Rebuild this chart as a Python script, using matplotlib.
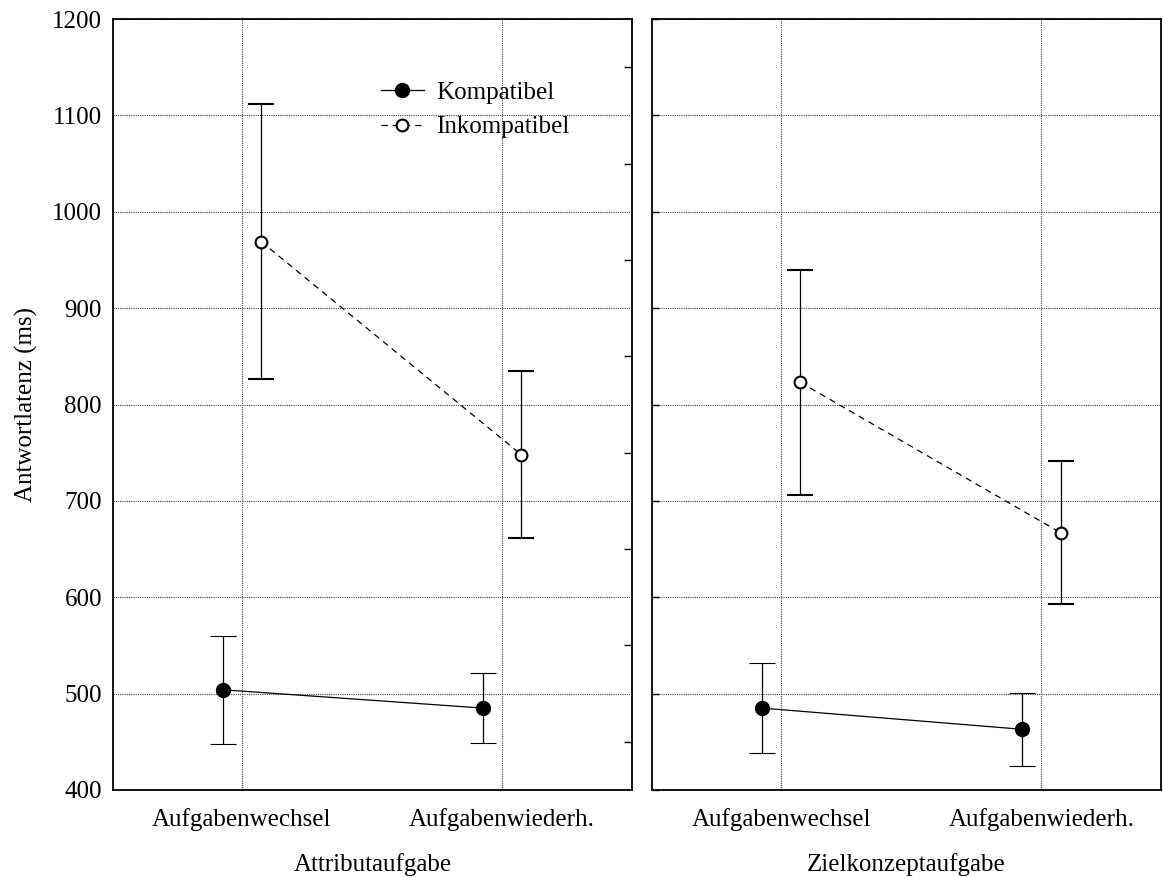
"""
Reaction times (compatible vs. incompatible) for task switch / task repetition,
split by attribute task and target-concept task.
"""
import matplotlib
matplotlib.use("Agg")
import matplotlib.pyplot as plt
from matplotlib.ticker import MultipleLocator, FixedLocator

plt.rcParams["font.family"] = ["Liberation Serif", "DejaVu Serif"]
plt.rcParams["font.size"] = 18

# data (ms), means and half-width of the error bars
conditions = ["Aufgabenwechsel", "Aufgabenwiederh."]
panels = ["Attributaufgabe", "Zielkonzeptaufgabe"]
series = ["Kompatibel", "Inkompatibel"]

attr_komp = [504, 485]
attr_komp_err = [56, 36]
attr_inkomp = [969, 748]
attr_inkomp_err = [143, 87]

ziel_komp = [485, 463]
ziel_komp_err = [47, 38]
ziel_inkomp = [823, 667]
ziel_inkomp_err = [117, 74]

W, H = 1163, 877
fig = plt.figure(figsize=(W / 100, H / 100), dpi=100)
ax_l = fig.add_axes([113 / W, 87 / H, 519 / W, 771 / H])
ax_r = fig.add_axes([652 / W, 87 / H, 509 / W, 771 / H])

shift = 0.074
xs = range(len(conditions))
handles = []

for ax, komp, komp_err, inkomp, inkomp_err, title in [
    (ax_l, attr_komp, attr_komp_err, attr_inkomp, attr_inkomp_err, panels[0]),
    (ax_r, ziel_komp, ziel_komp_err, ziel_inkomp, ziel_inkomp_err, panels[1]),
]:
    ek = ax.errorbar([x - shift for x in xs], komp, yerr=komp_err,
                     color="black", lw=0.9, marker="o", ms=10,
                     mfc="black", mec="black", elinewidth=0.9,
                     capsize=9.5, capthick=0.8, zorder=3)
    ei = ax.errorbar([x + shift for x in xs], inkomp, yerr=inkomp_err,
                     color="black", lw=0.9, ls=(0, (5, 4)), marker="o", ms=8.5,
                     mfc="white", mec="black", mew=1.5, elinewidth=0.9,
                     capsize=9.5, capthick=0.8, zorder=3)
    if not handles:
        handles = [ek[0], ei[0]]

    ax.set_ylim(400, 1200)
    ax.yaxis.set_major_locator(MultipleLocator(100))
    ax.set_xticks(list(xs))
    ax.set_xticklabels(conditions)
    ax.set_xlabel(title, labelpad=16)
    ax.grid(True, ls=(0, (1, 1)), color="0.25", lw=0.8, zorder=0)
    ax.tick_params(axis="x", length=0, pad=13)
    for sp in ax.spines.values():
        sp.set_linewidth(1.3)

ax_l.set_xlim(-0.496, 1.5)
ax_r.set_xlim(-0.496, 1.46)

# left panel: labelled y axis, small 50 ms ticks on the right spine
ax_l.set_ylabel("Antwortlatenz (ms)", labelpad=10)
ax_l.tick_params(axis="y", which="major", length=0, pad=8)
ax_l.yaxis.set_minor_locator(FixedLocator(range(450, 1200, 100)))
ax_l.tick_params(axis="y", which="minor", direction="in", length=6,
                 width=1.0, left=False, right=True)

# right panel: no y labels, inward ticks at the gridlines
ax_r.tick_params(axis="y", which="major", direction="in", length=5,
                 width=1.0, labelleft=False)

ax_l.legend(handles, series, loc="upper left", frameon=False,
            bbox_to_anchor=(381 / W, 1 - 81 / H), bbox_transform=fig.transFigure,
            borderpad=0, borderaxespad=0, handlelength=1.7,
            handletextpad=0.5, labelspacing=0.5, numpoints=1)

fig.savefig("out.png", dpi=100)
